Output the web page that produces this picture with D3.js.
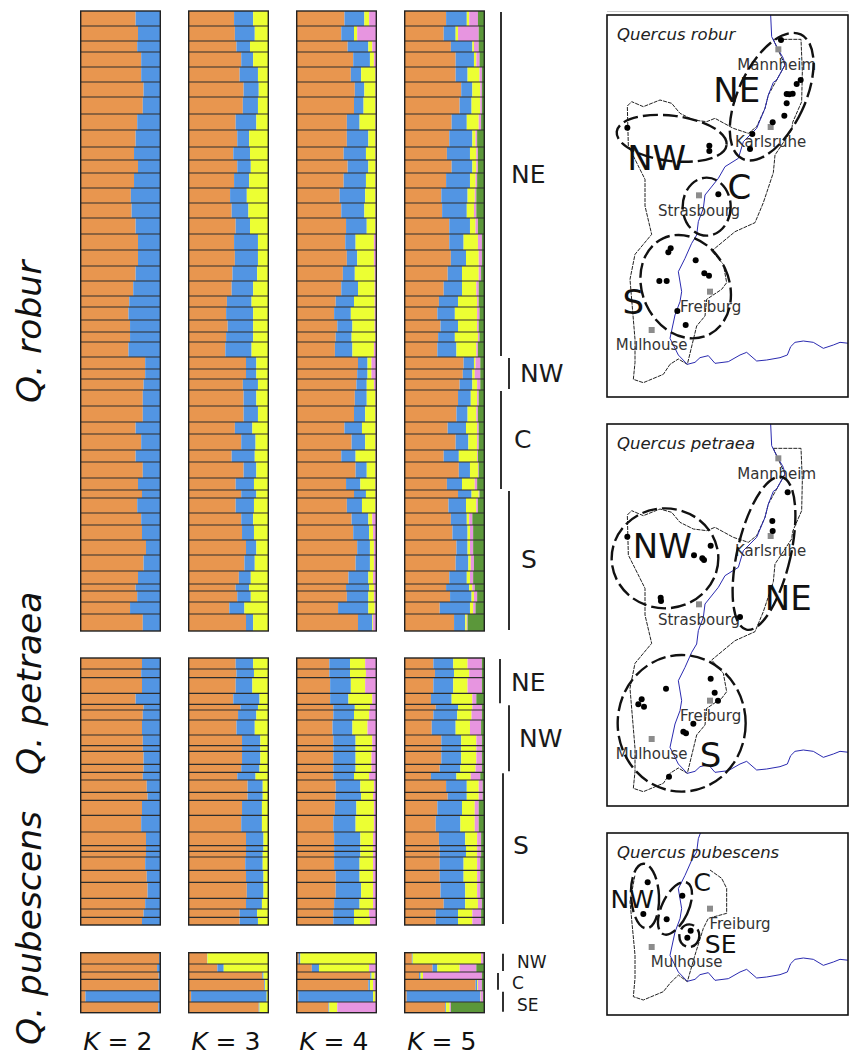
<!DOCTYPE html>
<html>
<head>
<meta charset="utf-8">
<script src="https://cdn.jsdelivr.net/npm/d3@7"></script>
<style>
    html, body { margin: 0; padding: 0; background: #fff; }
    text { font-family: "DejaVu Sans", sans-serif; }
</style>
</head>
<body>
<svg id="chart"></svg>
<script>

// STRUCTURE DATA
// row sizes are the relative bar heights, each K table holds the cumulative
// percent where a cluster ends (the last cluster always runs on to 100)

const kLabels = ["2", "3", "4", "5"];
const clusterColors = ["#E8964F", "#5295E3", "#ECFF33", "#E795E0", "#5B973A"];

const roburSizes = [15,15,11,15,15,15,17,16,17,13,13,15,15,15,16,16,16,15,15,11,13,12,10,15,12,10,11,16,16,12,16,12,16,12,8,15,12,15,15,16,13,7,11,12,17];

const roburK2 = [69,72,71,76,76,79,78,71,69,67,72,67,63,64,69,72,72,69,66,61,60,62,62,60,81,81,79,78,78,69,76,69,78,72,77,71,76,77,82,79,72,69,71,62,78];

const roburK3 = [[57,81],[58,83],[60,77],[66,81],[64,87],[69,88],[68,87],[59,85],[61,76],[56,77],[61,78],[57,76],[52,73],[54,75],[59,77],
    [57,87],[58,87],[55,86],[54,81],[48,79],[47,81],[49,81],[47,81],[46,79],[72,85],[72,85],[68,87],[69,85],[69,87],[58,80],
    [66,84],[54,83],[69,85],[59,82],[66,85],[59,82],[66,81],[67,82],[72,85],[70,83],[63,78],[59,76],[61,78],[51,70],[72,81]];

const roburK4 = [[60,85,91],[56,72,76],[64,90,95],[71,92,97],[68,81,99],[73,85,99],[72,84,99],[63,79,99],[63,90,99],[59,87,99],[64,90,99],[59,87,99],[54,86,99],[56,85,99],[62,88,99],
    [61,74,97],[63,76,97],[58,73,98],[56,77,98],[49,72,98],[47,68,98],[51,70,98],[49,69,99],[48,70,97],[77,89,94],[76,89,94],[75,88,97],[73,88,99],[72,86,99],[60,82,99],
    [69,86,99],[56,74,99],[74,88,99],[62,80,99],[72,87,99],[63,82,99],[69,90,95],[71,91,96],[76,92,97],[74,92,97],[65,90,96],[62,91,97],[63,90,97],[52,90,98],[77,95,96]];

const roburK5 = [[52,78,81,92],[49,64,67,93],[58,85,87,93],[64,87,90,94],[64,79,94,97],[71,85,95,97],[69,84,95,97],[59,78,93,96],[56,85,89,91],[53,82,90,92],[59,85,90,92],[52,82,89,91],[46,79,88,90],[47,78,87,90],[56,82,89,92],
    [56,74,92,97],[58,77,93,97],[54,72,93,96],[49,72,90,93],[43,67,91,93],[41,63,91,94],[45,67,91,93],[42,63,92,94],[41,65,90,92],[74,87,89,95],[73,85,88,95],[69,85,91,95],[67,83,91,93],[65,79,90,92],[54,77,91,93],
    [64,80,91,93],[49,68,91,92],[68,82,92,93],[53,72,88,91],[67,84,93,94],[55,77,90,92],[58,78,81,85],[60,79,82,86],[65,79,82,86],[64,80,83,87],[56,78,82,86],[52,81,85,88],[57,84,87,91],[44,82,86,89],[62,76,78,79]];

const petraeaSizes = [33,26,47,33,17,30,45,32,17,39,24,23,37,24,45,50,41,17,17,40,36,48,32,25,23];

const petraeaK2 = [77,76,77,69,79,78,77,78,78,79,79,78,83,84,77,76,82,82,82,81,83,84,81,79,77];

const petraeaK3 = [[59,81],[60,82],[59,80],[56,89],[65,87],[62,85],[60,83],[67,90],[67,90],[67,90],[66,89],[61,84],[74,93],[74,93],[67,92],[66,92],[72,94],[72,94],[72,93],[71,93],[72,94],[73,94],[72,92],[64,86],[64,87]];

const petraeaK4 = [[41,67,86],[41,67,87],[42,68,86],[42,65,95],[46,73,92],[46,72,91],[45,70,89],[46,74,95],[46,74,95],[46,74,94],[46,74,94],[46,72,91],[49,80,97],[49,81,96],[48,75,97],[46,74,97],[47,80,96],[47,80,96],[47,80,96],[47,79,96],[49,79,96],[49,81,96],[47,79,96],[46,72,91],[46,72,92]];

const petraeaK5 = [[36,61,79,97],[38,62,81,97],[36,61,79,97],[33,59,85,90],[39,67,85,97],[36,66,84,97],[34,64,82,96],[46,71,90,97],[46,71,90,97],[46,71,90,97],[44,70,89,97],[33,65,83,95],[52,78,93,98],[54,78,93,98],[41,72,88,93],[39,70,88,93],[43,76,91,96],[44,77,91,96],[44,77,91,96],[44,74,91,95],[44,74,91,95],[45,76,91,95],[49,76,92,97],[39,67,85,96],[39,67,85,96]];

const pubescensSizes = [34,24,22,34,34,32];

const pubescensK2 = [98.5,96,98,98,6,97.5];

const pubescensK3 = [[23,23.5],[36,44],[92.5,94],[95,96],[3,98],[88,89]];

const pubescensK4 = [[2.5,4.6,99],[19,28,91],[92.5,94,98],[90,92,96],[2,96,99],[40,41,51]];

const pubescensK5 = [[9,10,96,99],[35,41,69,90],[18,20,23,97],[89,91,92,97],[2.5,95,95.5,98.5],[51,52,56.5,58]];

// group name and how many rows it spans

const roburGroups = ["NE", "NW", "C", "S"];
const roburGroupRows = [24, 3, 7, 11];
const petraeaGroups = ["NE", "NW", "S"];
const petraeaGroupRows = [4, 7, 14];
const pubescensGroups = ["NW", "C", "SE"];
const pubescensGroupRows = [2, 2, 2];


// MAP DATA (map units, 3 per page pixel)

const regionOutline = [[520,103],[603,103],[607,200],[605,290],[578,352],[575,375],[525,450],[520,503],[490,593],[465,653],[405,680],[335,738],[370,778],[380,833],[365,853],[320,883],[315,933],[290,963],[262,1078],[235,1062],[210,1078],[190,1108],[130,1133],[100,1123],[105,1073],[105,1003],[90,823],[105,748],[155,688],[135,603],[135,523],[85,423],[82,303],[95,290],[130,305],[180,285],[215,295],[240,325],[280,345],[320,350],[345,340],[400,370],[445,385],[470,365],[495,310],[505,270],[530,225],[555,180],[530,125],[520,103]];

const pubescensOutline = [[330,744],[365,769],[380,799],[380,874],[325,889],[310,919],[285,999],[262,1079],[235,1059],[210,1084],[190,1109],[130,1134],[100,1124],[105,1069],[105,999],[90,839],[105,759]];

const rhineCourse = [[512,30],[515,95],[530,125],[550,160],[555,180],[530,225],[520,232],[505,270],[495,310],[470,370],[430,410],[415,460],[375,485],[355,520],[315,570],[310,610],[295,650],[290,690],[275,715],[255,760],[235,800],[245,860],[240,890],[225,930],[210,1000],[235,1050],[262,1078],[285,1072],[300,1058],[325,1052],[345,1075],[385,1070],[420,1050],[440,1042],[470,1068],[500,1065],[540,1058],[562,1050],[572,1025],[585,1012],[610,1008],[640,1012],[670,1030],[700,1020],[720,1012],[747,1015]];

const cityNames = ["Mannheim", "Karlsruhe", "Strasbourg", "Freiburg", "Mulhouse"];
const citySquares = [[535,133],[512,366],[297,571],[330,860],[155,975]];
const cityLabels = [[530,178],[512,410],[297,617],[332,905],[155,1020]];
const pubescensCityLabels = [null,null,null,[420,904],[260,1019]];

const roburSites = [[543,105],[602,225],[590,237],[560,267],[568,268],[578,266],[560,295],[553,332],[518,352],[457,387],[450,432],[82,368],[328,422],[328,438],[355,568],[212,730],[205,742],[287,766],[313,805],[327,812],[178,828],[200,828],[232,918],[257,960]];

const petraeaSites = [[563,235],[517,321],[518,351],[82,368],[332,395],[282,424],[307,433],[312,438],[182,551],[183,561],[420,609],[332,794],[198,824],[344,836],[125,856],[115,871],[132,878],[354,860],[280,929],[250,953],[258,958],[207,1088]];

const pubescensSites = [[143,781],[130,876],[200,892],[247,821],[272,926],[262,947]];

// cx, cy, rx, ry, angle

const roburZones = [[515,275,100,206,25],[215,400,166,68,7],[320,605,72,87,0],[257,845,130,160,-25]];
const roburZoneNames = ["NE", "NW", "C", "S"];
const roburZoneLabels = [[410,255],[170,457],[418,545],[100,890]];

const petraeaZones = [[195,433,160,150,0],[492,418,80,235,13],[245,928,192,205,0]];
const petraeaZoneNames = ["NW", "NE", "S"];
const petraeaZoneLabels = [[187,396],[565,550],[332,1021]];

const pubescensZones = [[135,822,42,97,-3],[225,859,40,85,25],[268,941,30,34,0]];
const pubescensZoneNames = ["NW", "C", "SE"];
const pubescensZoneLabels = [[97,831],[307,781],[362,967]];


// PAGE

const svg = d3.select("#chart")
    .attr("width", 849)
    .attr("height", 1056)
    .style("display", "block");

const panelWidth = 79.6;

const panelScale = d3.scalePoint()
    .domain(kLabels)
    .range([80.7, 404.7]);

const percentScale = d3.scaleLinear()
    .domain([0, 100])
    .range([0, panelWidth]);


// STRUCTURE BARS

function drawSpecies(sizes, tables, top, bottom) {

    const yScale = d3.scaleLinear()
        .domain([0, d3.sum(sizes)])
        .range([top, bottom]);

    const rowEnds = [0].concat(Array.from(d3.cumsum(sizes)));

    tables.forEach(function (table, k) {

        const panel = svg.append("g")
            .attr("transform", "translate(" + panelScale(kLabels[k]) + ",0)");

        table.forEach(function (row, r) {

            const cuts = [0].concat(row, [100]);

            panel.selectAll(null)
                .data(d3.pairs(cuts))
                .join("rect")
                .attr("x", d => percentScale(d[0]))
                .attr("width", d => percentScale(d[1]) - percentScale(d[0]))
                .attr("y", yScale(rowEnds[r]))
                .attr("height", yScale(rowEnds[r + 1]) - yScale(rowEnds[r]))
                .attr("fill", (d, i) => clusterColors[i]);

        });

        // separators between the rows

        panel.selectAll(null)
            .data(rowEnds.slice(1, -1))
            .join("line")
            .attr("x1", 0)
            .attr("x2", panelWidth)
            .attr("y1", d => yScale(d))
            .attr("y2", d => yScale(d))
            .attr("stroke", "#2e2e2e")
            .attr("stroke-width", 1.1);

        panel.append("rect")
            .attr("y", top)
            .attr("width", panelWidth)
            .attr("height", bottom - top)
            .attr("fill", "none")
            .attr("stroke", "#222")
            .attr("stroke-width", 1.4);

    });

    return function (rowIndex) {
        return yScale(rowEnds[rowIndex]);
    };

}

function drawGroups(names, rows, rowY, lineX, labelX, labelY, fontSize) {

    let rowIndex = 0;

    names.forEach(function (name, i) {

        const startY = rowY(rowIndex);
        rowIndex += rows[i];
        const endY = rowY(rowIndex);

        svg.append("line")
            .attr("x1", lineX[i])
            .attr("x2", lineX[i])
            .attr("y1", startY + 1)
            .attr("y2", endY - 1)
            .attr("stroke", "#1a1a1a")
            .attr("stroke-width", 1.8);

        svg.append("text")
            .attr("x", labelX[i])
            .attr("y", labelY[i])
            .attr("font-size", fontSize)
            .attr("fill", "#1a1a1a")
            .text(name);

    });

}

const roburRowY = drawSpecies(roburSizes, [roburK2, roburK3, roburK4, roburK5], 11, 631);
const petraeaRowY = drawSpecies(petraeaSizes, [petraeaK2, petraeaK3, petraeaK4, petraeaK5], 658, 925);
const pubescensRowY = drawSpecies(pubescensSizes, [pubescensK2, pubescensK3, pubescensK4, pubescensK5], 952.7, 1012.7);

drawGroups(roburGroups, roburGroupRows, roburRowY, [501, 509, 501, 509], [511, 520, 514, 521], [183, 382, 448, 568], 25);
drawGroups(petraeaGroups, petraeaGroupRows, petraeaRowY, [500, 509, 503], [511, 519, 513], [691, 747, 854], 25);
drawGroups(pubescensGroups, pubescensGroupRows, pubescensRowY, [503, 498, 503], [517, 512, 517], [968, 989, 1011], 17);


// SPECIES AND K LABELS

const speciesLabels = ["Q. robur", "Q. petraea", "Q. pubescens"];
const speciesLabelStart = [403, 775, 1045];

speciesLabels.forEach(function (label, i) {

    svg.append("text")
        .attr("transform", "translate(41," + speciesLabelStart[i] + ") rotate(-90)")
        .attr("font-size", 34.5)
        .attr("font-style", "italic")
        .attr("fill", "#111")
        .text(label);

});

kLabels.forEach(function (k) {

    const label = svg.append("text")
        .attr("x", panelScale(k) + 2.5)
        .attr("y", 1050)
        .attr("font-size", 25)
        .attr("fill", "#111");

    label.append("tspan")
        .attr("font-style", "italic")
        .text("K");

    label.append("tspan")
        .text(" = " + k);

});


// MAPS

const mapX = d3.scaleLinear()
    .domain([0, 747])
    .range([600, 849]);

const mapLine = d3.line().curve(d3.curveLinear);

function drawMap(options) {

    const mapY = d3.scaleLinear()
        .domain([0, 1200])
        .range([options.originY, options.originY + 400]);

    const clipId = "clip" + options.originY;

    svg.append("clipPath")
        .attr("id", clipId)
        .append("rect")
        .attr("x", 607)
        .attr("y", options.boxTop)
        .attr("width", 241)
        .attr("height", options.boxBottom - options.boxTop);

    const map = svg.append("g")
        .attr("clip-path", "url(#" + clipId + ")");

    function toPage(d) {
        return [mapX(d[0]), mapY(d[1])];
    }

    map.append("path")
        .attr("d", mapLine(options.outline.map(toPage)))
        .attr("fill", "none")
        .attr("stroke", "#222")
        .attr("stroke-width", 1)
        .attr("stroke-dasharray", "4 1");

    map.append("path")
        .attr("d", mapLine(rhineCourse.map(toPage)))
        .attr("fill", "none")
        .attr("stroke", "#2a2ab0")
        .attr("stroke-width", 1);

    options.cities.forEach(function (c) {

        const square = citySquares[c];
        const label = options.cityLabels[c];

        map.append("rect")
            .attr("x", mapX(square[0]) - 3)
            .attr("y", mapY(square[1]) - 3)
            .attr("width", 6)
            .attr("height", 6)
            .attr("fill", "#8c8c8c");

        map.append("text")
            .attr("x", mapX(label[0]))
            .attr("y", mapY(label[1]))
            .attr("dy", "0.36em")
            .attr("text-anchor", "middle")
            .attr("font-size", 15)
            .attr("fill", "#333")
            .text(cityNames[c]);

    });

    map.selectAll(null)
        .data(options.sites)
        .join("circle")
        .attr("cx", d => mapX(d[0]))
        .attr("cy", d => mapY(d[1]))
        .attr("r", 3)
        .attr("fill", "#000");

    map.selectAll(null)
        .data(options.zones)
        .join("ellipse")
        .attr("transform", d => "translate(" + mapX(d[0]) + "," + mapY(d[1]) + ") rotate(" + d[4] + ")")
        .attr("rx", d => d[2] / 3)
        .attr("ry", d => d[3] / 3)
        .attr("fill", "none")
        .attr("stroke", "#111")
        .attr("stroke-width", 2.4)
        .attr("stroke-dasharray", "15 5");

    options.zoneNames.forEach(function (name, i) {

        map.append("text")
            .attr("x", mapX(options.zoneLabels[i][0]))
            .attr("y", mapY(options.zoneLabels[i][1]))
            .attr("dy", "0.36em")
            .attr("text-anchor", "middle")
            .attr("font-size", options.zoneFont)
            .attr("fill", "#111")
            .text(name);

    });

    svg.append("rect")
        .attr("x", 607)
        .attr("y", options.boxTop)
        .attr("width", 241)
        .attr("height", options.boxBottom - options.boxTop)
        .attr("fill", "none")
        .attr("stroke", "#111")
        .attr("stroke-width", 1.6);

    svg.append("text")
        .attr("x", 617)
        .attr("y", options.boxTop + 24.5)
        .attr("font-size", 16.5)
        .attr("font-style", "italic")
        .attr("fill", "#222")
        .text(options.title);

}

svg.append("line")
    .attr("x1", 607)
    .attr("x2", 848)
    .attr("y1", 11.5)
    .attr("y2", 11.5)
    .attr("stroke", "#ccc");

drawMap({
    originY: 5,
    boxTop: 15,
    boxBottom: 397,
    title: "Quercus robur",
    outline: regionOutline,
    cities: [0, 1, 2, 3, 4],
    cityLabels: cityLabels,
    sites: roburSites,
    zones: roburZones,
    zoneNames: roburZoneNames,
    zoneLabels: roburZoneLabels,
    zoneFont: 34
});

drawMap({
    originY: 414,
    boxTop: 424,
    boxBottom: 806,
    title: "Quercus petraea",
    outline: regionOutline,
    cities: [0, 1, 2, 3, 4],
    cityLabels: cityLabels,
    sites: petraeaSites,
    zones: petraeaZones,
    zoneNames: petraeaZoneNames,
    zoneLabels: petraeaZoneLabels,
    zoneFont: 34
});

drawMap({
    originY: 622,
    boxTop: 833,
    boxBottom: 1015,
    title: "Quercus pubescens",
    outline: pubescensOutline,
    cities: [3, 4],
    cityLabels: pubescensCityLabels,
    sites: pubescensSites,
    zones: pubescensZones,
    zoneNames: pubescensZoneNames,
    zoneLabels: pubescensZoneLabels,
    zoneFont: 25
});

</script>
</body>
</html>
